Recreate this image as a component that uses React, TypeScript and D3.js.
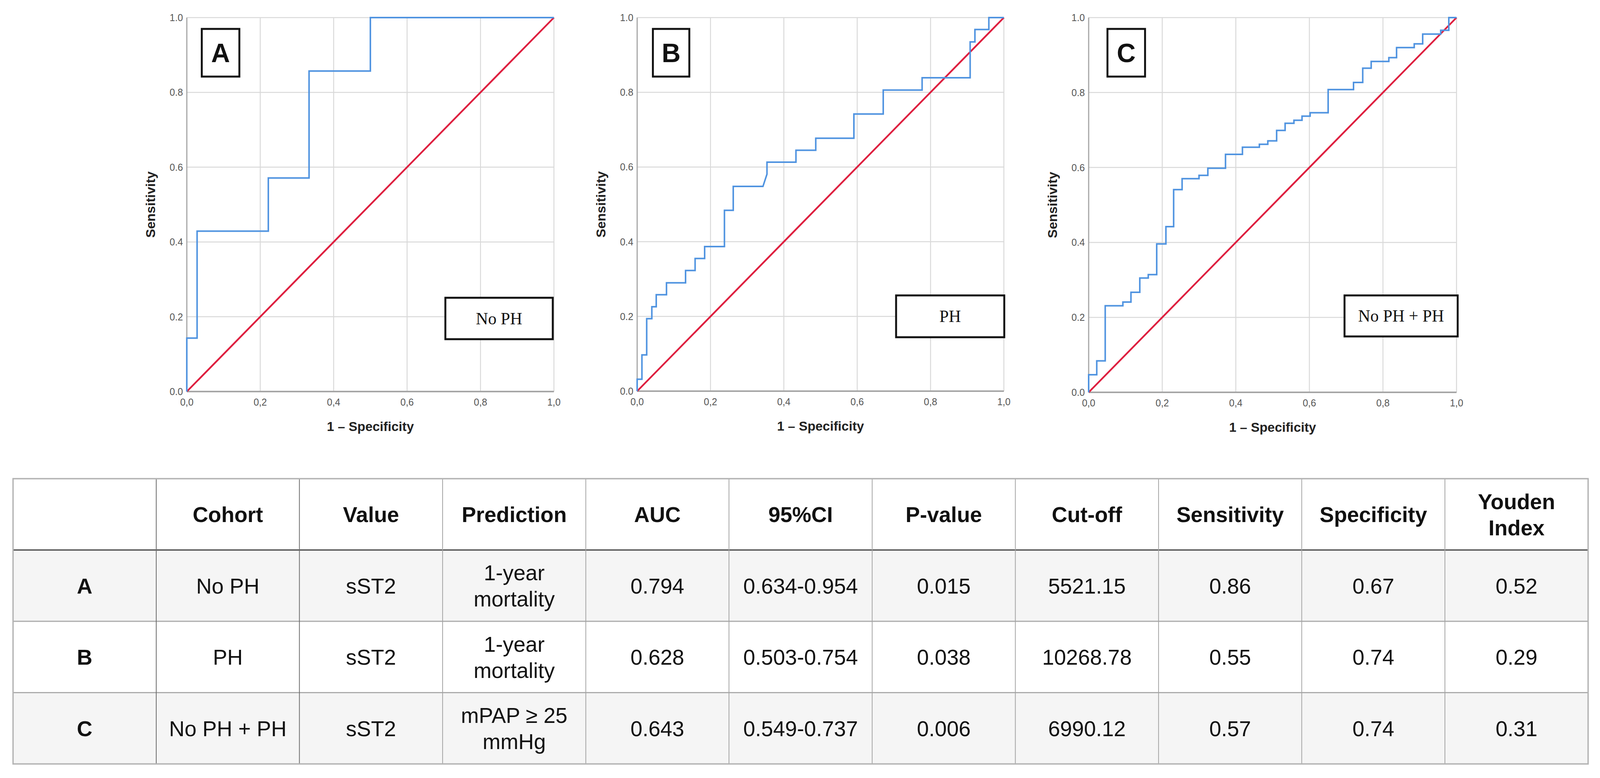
import * as d3 from "d3"

// ROC points (1 - specificity, sensitivity)
const rocA_fpr = [0, 0, 0.028, 0.028, 0.222, 0.222, 0.333, 0.333, 0.5, 0.5, 1]
const rocA_tpr = [0, 0.143, 0.143, 0.429, 0.429, 0.571, 0.571, 0.857, 0.857, 1, 1]

const rocB_fpr = [
  0, 0, 0.013, 0.013, 0.026, 0.026, 0.04, 0.04, 0.052, 0.052, 0.08, 0.08, 0.132, 0.132,
  0.158, 0.158, 0.184, 0.184, 0.238, 0.238, 0.262, 0.262, 0.343, 0.354, 0.354, 0.433, 0.433,
  0.487, 0.487, 0.591, 0.591, 0.671, 0.671, 0.777, 0.777, 0.908, 0.908, 0.921, 0.921, 0.959,
  0.959, 1,
]
const rocB_tpr = [
  0, 0.032, 0.032, 0.097, 0.097, 0.194, 0.194, 0.226, 0.226, 0.258, 0.258, 0.29, 0.29, 0.323,
  0.323, 0.355, 0.355, 0.387, 0.387, 0.484, 0.484, 0.548, 0.548, 0.581, 0.613, 0.613, 0.645,
  0.645, 0.677, 0.677, 0.742, 0.742, 0.806, 0.806, 0.839, 0.839, 0.935, 0.935, 0.968, 0.968,
  1, 1,
]

const rocC_fpr = [
  0, 0, 0.022, 0.022, 0.045, 0.045, 0.093, 0.093, 0.115, 0.115, 0.139, 0.139, 0.162, 0.162,
  0.185, 0.185, 0.21, 0.21, 0.231, 0.231, 0.254, 0.254, 0.3, 0.3, 0.324, 0.324, 0.372, 0.372,
  0.418, 0.418, 0.464, 0.464, 0.487, 0.487, 0.511, 0.511, 0.534, 0.534, 0.558, 0.558, 0.58,
  0.58, 0.602, 0.602, 0.651, 0.651, 0.72, 0.72, 0.745, 0.745, 0.768, 0.768, 0.816, 0.816,
  0.837, 0.837, 0.885, 0.885, 0.908, 0.908, 0.957, 0.957, 0.979, 0.979, 1,
]
const rocC_tpr = [
  0, 0.047, 0.047, 0.084, 0.084, 0.231, 0.231, 0.241, 0.241, 0.267, 0.267, 0.305, 0.305,
  0.314, 0.314, 0.396, 0.396, 0.442, 0.442, 0.541, 0.541, 0.57, 0.57, 0.579, 0.579, 0.598,
  0.598, 0.635, 0.635, 0.654, 0.654, 0.662, 0.662, 0.671, 0.671, 0.699, 0.699, 0.718, 0.718,
  0.726, 0.726, 0.737, 0.737, 0.746, 0.746, 0.808, 0.808, 0.827, 0.827, 0.865, 0.865, 0.883,
  0.883, 0.893, 0.893, 0.92, 0.92, 0.93, 0.93, 0.956, 0.956, 0.966, 0.966, 1, 1,
]

const diagonal = [0, 1]
const axisTicks = [0, 0.2, 0.4, 0.6, 0.8, 1]

const panelLetters = ["A", "B", "C"]
const panelGroups = ["No PH", "PH", "No PH + PH"]

// table
const tableHeader = ["", "Cohort", "Value", "Prediction", "AUC", "95%CI", "P-value", "Cut-off", "Sensitivity", "Specificity", "Youden\nIndex"]
const rowLabels = ["A", "B", "C"]
const cohorts = ["No PH", "PH", "No PH + PH"]
const values = ["sST2", "sST2", "sST2"]
const predictions = ["1-year\nmortality", "1-year\nmortality", "mPAP ≥ 25\nmmHg"]
const aucs = ["0.794", "0.628", "0.643"]
const cis = ["0.634-0.954", "0.503-0.754", "0.549-0.737"]
const pValues = ["0.015", "0.038", "0.006"]
const cutoffs = ["5521.15", "10268.78", "6990.12"]
const sensitivities = ["0.86", "0.55", "0.57"]
const specificities = ["0.67", "0.74", "0.74"]
const youden = ["0.52", "0.29", "0.31"]

const W = 4171
const H = 1991
const SANS = "'Liberation Sans', Arial, Helvetica, sans-serif"
const SERIF = "'Liberation Serif', 'Times New Roman', serif"
const BLUE = "#4f93e0"
const RED = "#de1f3f"

// panel placement
const panels = [
  { fpr: rocA_fpr, tpr: rocA_tpr, left: 487, top: 45, size: 957, letterBox: [526, 74, 98, 122], groupBox: [1161, 762, 280, 106] },
  { fpr: rocB_fpr, tpr: rocB_tpr, left: 1661, top: 45, size: 956, letterBox: [1702, 74, 95, 122], groupBox: [2336, 756, 282, 107] },
  { fpr: rocC_fpr, tpr: rocC_tpr, left: 2838, top: 45, size: 959, letterBox: [2887, 74, 98, 122], groupBox: [3505, 756, 295, 105] },
]

function RocPanel({ idx }: { idx: number }) {
  const p = panels[idx]
  const x = d3.scaleLinear().domain([0, 1]).range([p.left, p.left + p.size])
  const y = d3.scaleLinear().domain([0, 1]).range([p.top + p.size, p.top])
  const pts = p.fpr.map((f, i) => [f, p.tpr[i]] as [number, number])
  const line = d3
    .line<[number, number]>()
    .x((d) => x(d[0]))
    .y((d) => y(d[1]))
  const fmtY = d3.format(".1f")
  const fmtX = (v: number) => d3.format(".1f")(v).replace(".", ",")
  const [lx, ly, lw, lh] = p.letterBox
  const [gx, gy, gw, gh] = p.groupBox
  const midX = (x(0) + x(1)) / 2
  const midY = (y(0) + y(1)) / 2

  return (
    <g>
      {/* grid */}
      {axisTicks.filter((t) => t > 0).map((t) => (
        <g key={t}>
          <line x1={x(t)} x2={x(t)} y1={y(0)} y2={y(1)} stroke="#d9d9d9" strokeWidth={2.5} />
          <line x1={x(0)} x2={x(1)} y1={y(t)} y2={y(t)} stroke="#d9d9d9" strokeWidth={2.5} />
        </g>
      ))}
      {/* axes */}
      <line x1={x(0)} x2={x(0)} y1={y(0)} y2={y(1)} stroke="#a6a6a6" strokeWidth={3} />
      <line x1={x(0)} x2={x(1)} y1={y(0)} y2={y(0)} stroke="#a6a6a6" strokeWidth={4} />
      {axisTicks.map((t) => (
        <text key={"y" + t} x={x(0) - 10} y={y(t)} dy="0.36em" textAnchor="end" fontFamily={SANS} fontSize={25} fill="#555">
          {fmtY(t)}
        </text>
      ))}
      {axisTicks.map((t) => (
        <text key={"x" + t} x={x(t)} y={y(0) + 36} textAnchor="middle" fontFamily={SANS} fontSize={25} fill="#555">
          {fmtX(t)}
        </text>
      ))}
      <text
        transform={`translate(${x(0) - 95},${midY}) rotate(-90)`}
        textAnchor="middle"
        dy="0.36em"
        fontFamily={SANS}
        fontWeight="bold"
        fontSize={34}
        fill="#222"
      >
        Sensitivity
      </text>
      <text x={midX} y={y(0) + 101} textAnchor="middle" fontFamily={SANS} fontWeight="bold" fontSize={34} fill="#222">
        1 – Specificity
      </text>
      {/* reference diagonal */}
      <line x1={x(diagonal[0])} y1={y(diagonal[0])} x2={x(diagonal[1])} y2={y(diagonal[1])} stroke={RED} strokeWidth={4.5} />
      {/* ROC curve */}
      <path d={line(pts) || ""} fill="none" stroke={BLUE} strokeWidth={4} />
      {/* labels */}
      <rect x={lx} y={ly} width={lw} height={lh} fill="#fff" stroke="#111" strokeWidth={5} />
      <text x={lx + lw / 2} y={ly + lh / 2 + 24} textAnchor="middle" fontFamily={SANS} fontWeight="bold" fontSize={68} fill="#111">
        {panelLetters[idx]}
      </text>
      <rect x={gx} y={gy} width={gw} height={gh} fill="#fff" stroke="#111" strokeWidth={5} />
      <text x={gx + gw / 2} y={gy + gh / 2 + 15} textAnchor="middle" fontFamily={SERIF} fontSize={44} fill="#111">
        {panelGroups[idx]}
      </text>
    </g>
  )
}

function ResultTable() {
  const left = 34
  const right = 4140
  const top = 1225
  const bottom = 1955
  const cols = d3.scaleBand<number>().domain(d3.range(tableHeader.length)).range([left, right])
  const rows = d3.scaleBand<number>().domain(d3.range(4)).range([top, bottom])
  const body = rowLabels.map((r, i) => [
    r, cohorts[i], values[i], predictions[i], aucs[i], cis[i], pValues[i], cutoffs[i], sensitivities[i], specificities[i], youden[i],
  ])
  const cells = [tableHeader, ...body]
  const fs = 56
  const lh = 67

  return (
    <g>
      {[1, 3].map((r) => (
        <rect key={r} x={left} y={rows(r)} width={right - left} height={rows.bandwidth()} fill="#f5f5f5" />
      ))}
      {/* row lines */}
      {[2, 3].map((r) => (
        <line key={r} x1={left} x2={right} y1={rows(r)} y2={rows(r)} stroke="#ababab" strokeWidth={3} />
      ))}
      <line x1={left} x2={right} y1={rows(1)} y2={rows(1)} stroke="#555" strokeWidth={3.5} />
      {/* column lines */}
      {d3.range(1, tableHeader.length).map((c) => (
        <line
          key={c}
          x1={cols(c)}
          x2={cols(c)}
          y1={top}
          y2={bottom}
          stroke={c <= 2 ? "#6a6a6a" : "#a3a3a3"}
          strokeWidth={2}
        />
      ))}
      <rect x={left} y={top} width={right - left} height={bottom - top} fill="none" stroke="#b3b3b3" strokeWidth={3.5} />
      {cells.map((row, ri) =>
        row.map((txt, ci) => {
          const lines = txt.split("\n")
          const cx = (cols(ci) as number) + cols.bandwidth() / 2
          const cy = (rows(ri) as number) + rows.bandwidth() / 2
          const bold = ri === 0 || ci === 0
          return (
            <text
              key={ri + "-" + ci}
              textAnchor="middle"
              fontFamily={SANS}
              fontSize={fs}
              fontWeight={bold ? "bold" : "normal"}
              fill="#111"
            >
              {lines.map((l, li) => (
                <tspan key={li} x={cx} y={cy + 20 + (li - (lines.length - 1) / 2) * lh}>
                  {l}
                </tspan>
              ))}
            </text>
          )
        }),
      )}
    </g>
  )
}

export default function App() {
  // fit the whole figure to the viewport so nothing gets clipped
  return (
    <svg
      viewBox={`0 0 ${W} ${H}`}
      preserveAspectRatio="none"
      style={{ position: "fixed", left: 0, top: 0, width: "100%", height: "100%", display: "block", background: "#fff" }}
    >
      <rect x={0} y={0} width={W} height={H} fill="#fff" />
      {panels.map((_, i) => (
        <RocPanel key={i} idx={i} />
      ))}
      <ResultTable />
    </svg>
  )
}
